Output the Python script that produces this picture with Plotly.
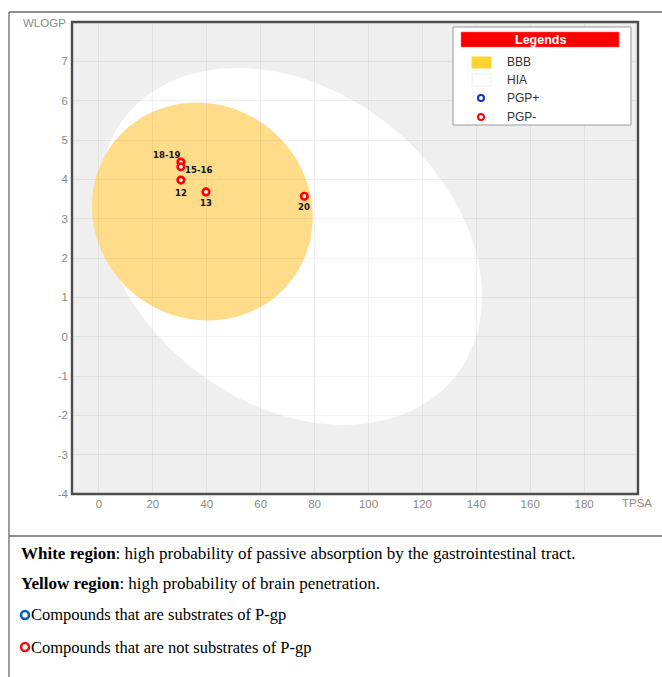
import numpy as np
import plotly.graph_objects as go

# ---------------- data ----------------
compound_labels = ["18-19", "15-16", "12", "13", "20"]
tpsa = [30.4, 30.4, 30.4, 39.7, 76.2]
wlogp = [4.44, 4.32, 3.98, 3.68, 3.57]

x_ticks = [0, 20, 40, 60, 80, 100, 120, 140, 160, 180]
y_ticks = [-4, -3, -2, -1, 0, 1, 2, 3, 4, 5, 6, 7]
x_range = [-10, 200]
y_range = [-4, 8]

# ellipse: centre and two conjugate half-axis vectors (TPSA, WLOGP)
hia_center = (71.05, 2.295)
hia_u = (71.05, -1.264)
hia_v = (0.0, 4.356)
bbb_center = (38.35, 3.18)
bbb_u = (40.95, -0.139)
bbb_v = (0.0, 2.767)

legend_items = ["BBB", "HIA", "PGP+", "PGP-"]
caption_lines = [
    ("White region", ": high probability of passive absorption by the gastrointestinal tract."),
    ("Yellow region", ": high probability of brain penetration."),
]
caption_icons = [
    ("Compounds that are substrates of P-gp", "#0b5bc4"),
    ("Compounds that are not substrates of P-gp", "#ee1111"),
]

# ---------------- styles ----------------
W, H = 662, 677
PL, PR, PT, PB = 72, 638, 22, 494  # plot area in pixels
YELLOW = "#FFDC8A"
GREY_TXT = "#8a8a8a"
label_offsets = {"18-19": (-14, 8), "15-16": (18, -3), "12": (0, -12), "13": (0, -11), "20": (0, -10)}


def px(x):
    return (x - PL) / (PR - PL)


def py(y):
    return (PB - y) / (PB - PT)


def ellipse_path(c, u, v, n=200):
    t = np.linspace(0, 2 * np.pi, n)
    xs = c[0] + u[0] * np.cos(t) + v[0] * np.sin(t)
    ys = c[1] + u[1] * np.cos(t) + v[1] * np.sin(t)
    pts = [f"{a:.3f},{b:.4f}" for a, b in zip(xs, ys)]
    return "M" + " L".join(pts) + " Z"


fig = go.Figure()

fig.add_trace(go.Scatter(
    x=tpsa, y=wlogp, mode="markers", showlegend=False, hoverinfo="skip",
    marker=dict(symbol="circle", size=6.5, color="white",
                line=dict(color="#ff0000", width=2.7)),
))

shapes = []
shapes.append(dict(type="path", path=ellipse_path(hia_center, hia_u, hia_v), xref="x", yref="y",
                   fillcolor="white", line=dict(width=0), layer="below"))
shapes.append(dict(type="path", path=ellipse_path(bbb_center, bbb_u, bbb_v), xref="x", yref="y",
                   fillcolor=YELLOW, line=dict(width=0), layer="below"))
# plot frame
shapes.append(dict(type="rect", xref="paper", yref="paper", x0=0, x1=1, y0=0, y1=1,
                   line=dict(color="#4d4d4d", width=2.4), layer="above"))
# outer frame lines
shapes.append(dict(type="line", xref="paper", yref="paper", x0=px(9), x1=px(9), y0=py(12), y1=py(H + 2),
                   line=dict(color="#6a6a6a", width=1.3)))
shapes.append(dict(type="line", xref="paper", yref="paper", x0=px(9), x1=px(W + 2), y0=py(12), y1=py(12),
                   line=dict(color="#6a6a6a", width=1.3)))
shapes.append(dict(type="line", xref="paper", yref="paper", x0=px(9), x1=px(W + 2), y0=py(536), y1=py(536),
                   line=dict(color="#6a6a6a", width=1.3)))

# legend box
shapes.append(dict(type="rect", xref="paper", yref="paper", x0=px(453), x1=px(631), y0=py(125), y1=py(27),
                   fillcolor="white", line=dict(color="#9a9a9a", width=1)))
shapes.append(dict(type="rect", xref="paper", yref="paper", x0=px(461), x1=px(619), y0=py(47), y1=py(32),
                   fillcolor="#ff0000", line=dict(color="#ff6666", width=0.5)))
shapes.append(dict(type="rect", xref="paper", yref="paper", x0=px(472), x1=px(491), y0=py(68), y1=py(57),
                   fillcolor="#FFD22E", line=dict(color="#FFD22E", width=1)))
shapes.append(dict(type="rect", xref="paper", yref="paper", x0=px(472), x1=px(491), y0=py(86), y1=py(74),
                   fillcolor="white", line=dict(color="#eeeeee", width=1)))
for cy, col in [(98, "#1030c8"), (117, "#ff0000")]:
    shapes.append(dict(type="circle", xref="paper", yref="paper",
                       x0=px(478), x1=px(484), y0=py(cy + 3), y1=py(cy - 3),
                       fillcolor="white", line=dict(color=col, width=2)))
# caption icons
for i, (_, col) in enumerate(caption_icons):
    cy = 615 + 32 * i
    shapes.append(dict(type="circle", xref="paper", yref="paper",
                       x0=px(21), x1=px(29), y0=py(cy + 4), y1=py(cy - 4),
                       fillcolor="white", line=dict(color=col, width=2.6)))

annotations = []
for lab, x, y in zip(compound_labels, tpsa, wlogp):
    dx, dy = label_offsets[lab]
    annotations.append(dict(x=x, y=y, xref="x", yref="y", text=f"<b>{lab}</b>", showarrow=False,
                            xshift=dx, yshift=dy,
                            font=dict(family="DejaVu Sans Condensed", size=9.5, color="#111111")))
annotations.append(dict(x=px(68), y=py(23), xref="paper", yref="paper", text="WLOGP", showarrow=False,
                        xanchor="right", yanchor="middle", font=dict(family="Liberation Sans", size=11.5, color=GREY_TXT)))
annotations.append(dict(x=px(637), y=py(503), xref="paper", yref="paper", text="TPSA", showarrow=False,
                        xanchor="center", yanchor="middle", font=dict(family="Liberation Sans", size=11.5, color=GREY_TXT)))
annotations.append(dict(x=px(540), y=py(40), xref="paper", yref="paper", text="<b>Legends</b>", showarrow=False,
                        xanchor="center", yanchor="middle", font=dict(family="Liberation Sans", size=12.5, color="white")))
for i, item in enumerate(legend_items):
    yy = [62, 80, 98, 117][i]
    annotations.append(dict(x=px(505), y=py(yy), xref="paper", yref="paper", text=item, showarrow=False,
                            xanchor="left", yanchor="middle", font=dict(family="Liberation Sans", size=12, color="#333333")))
for i, (b, rest) in enumerate(caption_lines):
    yy = 553 + 30 * i
    annotations.append(dict(x=px(19), y=py(yy), xref="paper", yref="paper", text=f"<b>{b}</b>{rest}",
                            showarrow=False, xanchor="left", yanchor="middle",
                            font=dict(family="Liberation Serif", size=17, color="black")))
for i, (t, _) in enumerate(caption_icons):
    yy = 615 + 32 * i
    annotations.append(dict(x=px(29), y=py(yy), xref="paper", yref="paper", text=t,
                            showarrow=False, xanchor="left", yanchor="middle",
                            font=dict(family="Liberation Serif", size=16.5, color="black")))

fig.update_layout(
    width=W, height=H, autosize=False,
    margin=dict(l=PL, r=W - PR, t=PT, b=H - PB, pad=0),
    paper_bgcolor="white", plot_bgcolor="#EFEFEF",
    shapes=shapes, annotations=annotations, showlegend=False,
    xaxis=dict(range=x_range, tickvals=x_ticks, ticktext=[str(v) for v in x_ticks],
               showgrid=True, gridcolor="rgba(0,0,0,0.05)", gridwidth=1, zeroline=False,
               showline=False, ticks="", ticklabelstandoff=1,
               tickfont=dict(family="Liberation Sans", size=11.5, color=GREY_TXT), fixedrange=True),
    yaxis=dict(range=y_range, tickvals=y_ticks, ticktext=[str(v) for v in y_ticks],
               showgrid=True, gridcolor="rgba(0,0,0,0.05)", gridwidth=1, zeroline=False,
               showline=False, ticks="", ticklabelstandoff=3,
               tickfont=dict(family="Liberation Sans", size=11.5, color=GREY_TXT), fixedrange=True),
)

fig.write_html("out.html")
